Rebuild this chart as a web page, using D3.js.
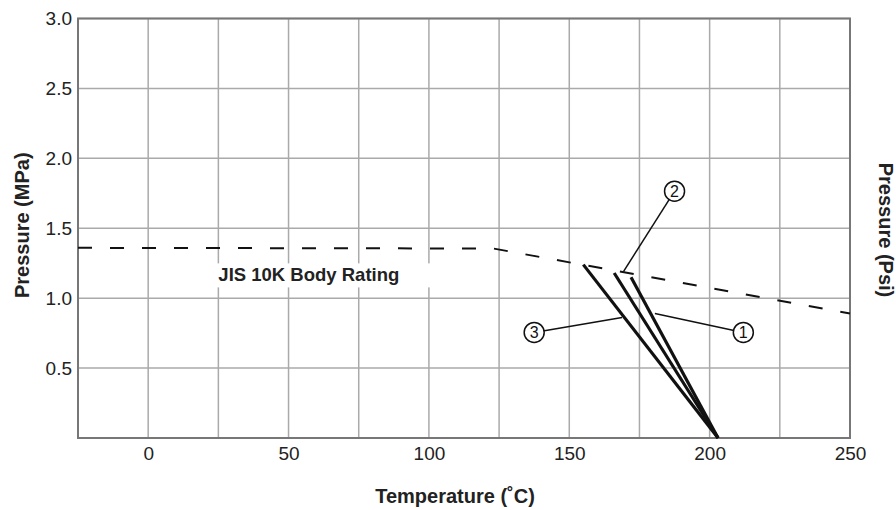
<!DOCTYPE html>
<html>
<head>
<meta charset="utf-8">
<script src="https://cdn.jsdelivr.net/npm/d3@7"></script>
<style>
  body { margin: 0; background: #fff; }
  svg { display: block; }
</style>
</head>
<body>
<svg id="chart"></svg>
<script>
// body rating (dashed)
const ratingTemp = [-25, 123, 250];
const ratingPress = [1.36, 1.355, 0.89];

// seat curves 1..3, each from its top point down to zero
const curveIds = ["1", "2", "3"];
const curveTemp = [[172, 203], [166, 203], [155, 203]];
const curvePress = [[1.15, 0], [1.18, 0], [1.24, 0]];

// callout bubbles and where the leaders touch the curves
const calloutTemp = [212, 187.5, 137.5];
const calloutPress = [0.755, 1.765, 0.755];
const leaderTemp = [180.5, 169.3, 168.8];
const leaderPress = [0.89, 1.19, 0.862];

const xTicks = [0, 50, 100, 150, 200, 250];
const yTicks = [0.5, 1.0, 1.5, 2.0, 2.5, 3.0];
const xGrid = d3.range(-25, 251, 25);
const yGrid = d3.range(0, 3.01, 0.5);

const width = 896, height = 510;
const margin = { top: 18.5, right: 46, bottom: 72, left: 78 };
const font = "'Liberation Sans', Arial, Helvetica, sans-serif";

const svg = d3.select("#chart")
  .attr("width", width)
  .attr("height", height)
  .attr("viewBox", [0, 0, width, height])
  .style("font-family", font);

const x = d3.scaleLinear()
  .domain([-25, 250])
  .range([margin.left, width - margin.right]);

const y = d3.scaleLinear()
  .domain([0, 3])
  .range([height - margin.bottom, margin.top]);

// grid
svg.append("g")
  .selectAll("line")
  .data(xGrid)
  .join("line")
  .attr("x1", d => x(d)).attr("x2", d => x(d))
  .attr("y1", y(0)).attr("y2", y(3))
  .attr("stroke", "#aaa")
  .attr("stroke-width", 1.5);

svg.append("g")
  .selectAll("line")
  .data(yGrid)
  .join("line")
  .attr("x1", x(-25)).attr("x2", x(250))
  .attr("y1", d => y(d)).attr("y2", d => y(d))
  .attr("stroke", "#aaa")
  .attr("stroke-width", 1.5);

// frame
svg.append("rect")
  .attr("x", x(-25)).attr("y", y(3))
  .attr("width", x(250) - x(-25))
  .attr("height", y(0) - y(3))
  .attr("fill", "none")
  .attr("stroke", "#777")
  .attr("stroke-width", 2);

// axes (labels only, ticks hidden)
svg.append("g")
  .attr("transform", `translate(0,${y(0)})`)
  .call(d3.axisBottom(x).tickValues(xTicks).tickSize(0).tickPadding(9))
  .call(g => g.select(".domain").remove())
  .call(g => g.selectAll("text")
    .attr("font-family", font).attr("font-size", 19).attr("fill", "#222"));

svg.append("g")
  .attr("transform", `translate(${x(-25)},0)`)
  .call(d3.axisLeft(y).tickValues(yTicks).tickFormat(d3.format(".1f")).tickSize(0).tickPadding(6))
  .call(g => g.select(".domain").remove())
  .call(g => g.selectAll("text")
    .attr("font-family", font).attr("font-size", 19).attr("fill", "#222"));

// axis titles
svg.append("text")
  .attr("x", 455).attr("y", 503)
  .attr("text-anchor", "middle")
  .attr("font-size", 20).attr("font-weight", "bold").attr("fill", "#222")
  .text("Temperature (˚C)");

svg.append("text")
  .attr("transform", `translate(29,${(y(0) + y(3)) / 2 - 3}) rotate(-90)`)
  .attr("text-anchor", "middle")
  .attr("font-size", 20).attr("font-weight", "bold").attr("fill", "#222")
  .text("Pressure (MPa)");

svg.append("text")
  .attr("transform", `translate(879,230) rotate(90)`)
  .attr("text-anchor", "middle")
  .attr("font-size", 20).attr("font-weight", "bold").attr("fill", "#222")
  .text("Pressure (Psi)");

// body rating dashed line
const ratingData = ratingTemp.map((t, i) => [t, ratingPress[i]]);
const line = d3.line().x(d => x(d[0])).y(d => y(d[1]));

svg.append("path")
  .attr("d", line(ratingData))
  .attr("fill", "none")
  .attr("stroke", "#111")
  .attr("stroke-width", 2)
  .attr("stroke-dasharray", "14,18");

// label with white box
const label = svg.append("g");
const labelText = label.append("text")
  .attr("x", x(25)).attr("y", y(1.12))
  .attr("font-size", 18.5).attr("font-weight", "bold").attr("fill", "#222")
  .text("JIS 10K Body Rating");
const bb = labelText.node().getBBox();
label.insert("rect", "text")
  .attr("x", bb.x - 10).attr("y", bb.y - 1)
  .attr("width", bb.width + 45).attr("height", bb.height + 3)
  .attr("fill", "#fff");

// leaders
const leaders = curveIds.map((id, i) => ({
  id,
  from: [calloutTemp[i], calloutPress[i]],
  to: [leaderTemp[i], leaderPress[i]]
}));

svg.append("g")
  .selectAll("line")
  .data(leaders)
  .join("line")
  .attr("x1", d => x(d.from[0])).attr("y1", d => y(d.from[1]))
  .attr("x2", d => x(d.to[0])).attr("y2", d => y(d.to[1]))
  .attr("stroke", "#111")
  .attr("stroke-width", 1.5);

// the three curves
const curves = curveIds.map((id, i) => ({
  id,
  values: curveTemp[i].map((t, j) => [t, curvePress[i][j]])
}));

svg.append("g")
  .selectAll("path")
  .data(curves)
  .join("path")
  .attr("d", d => line(d.values))
  .attr("fill", "none")
  .attr("stroke", "#111")
  .attr("stroke-width", 3.2);

// bubbles
const bubble = svg.append("g")
  .selectAll("g")
  .data(leaders)
  .join("g")
  .attr("transform", d => `translate(${x(d.from[0])},${y(d.from[1])})`);

bubble.append("circle")
  .attr("r", 10)
  .attr("fill", "#fff")
  .attr("stroke", "#111")
  .attr("stroke-width", 1.5);

bubble.append("text")
  .attr("text-anchor", "middle")
  .attr("dy", "0.36em")
  .attr("font-size", 16)
  .attr("fill", "#111")
  .text(d => d.id);
</script>
</body>
</html>
